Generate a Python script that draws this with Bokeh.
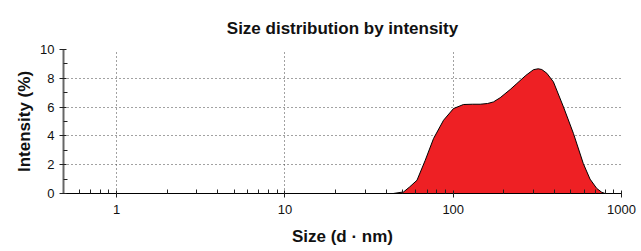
from bokeh.plotting import figure
from bokeh.models import FixedTicker, PrintfTickFormatter, Range1d
from bokeh.embed import file_html
from bokeh.resources import INLINE

# Data (size in d.nm, intensity in %)
size_nm = [44, 50.7, 55, 60.9, 68.2, 76.4, 87.6, 100.4, 115, 130, 144.6, 160,
           173.4, 190, 218, 239, 270, 300, 320, 336, 360, 394, 452, 518, 593,
           650, 713, 760, 798]
intensity = [0.0, 0.11, 0.45, 0.92, 2.31, 3.82, 5.09, 5.9, 6.18, 6.2, 6.2, 6.25,
             6.36, 6.65, 7.22, 7.64, 8.2, 8.6, 8.66, 8.61, 8.35, 7.75, 6.01, 4.17, 2.08,
             1.0, 0.35, 0.1, 0.0]

x_major = [1, 10, 100, 1000]
x_minor = [0.6, 0.7, 0.8, 0.9] + [m * d for d in (1, 10, 100) for m in range(2, 10)]
y_major = [0, 2, 4, 6, 8, 10]
y_minor = [1, 3, 5, 7, 9]
title_text = "Size distribution by intensity"

FONT = "Liberation Sans"

p = figure(width=641, height=251, x_axis_type="log", output_backend="svg",
           toolbar_location=None, x_range=Range1d(0.483, 1000), y_range=Range1d(0, 10),
           min_border_left=63, min_border_right=20, min_border_top=49,
           min_border_bottom=58, title=title_text)
p.outline_line_color = None
p.background_fill_color = "white"

p.title.text_font = FONT
p.title.text_font_size = "17px"
p.title.text_font_style = "bold"
p.title.align = "center"
p.title.text_color = "#111111"
p.title.vertical_align = "top"
p.title.standoff = 20

p.varea(x=size_nm, y1=0, y2=intensity, fill_color="#EE2024")
p.line(x=size_nm, y=intensity, line_color="black", line_width=1)

p.xaxis.ticker = FixedTicker(ticks=x_major, minor_ticks=x_minor)
p.xaxis.formatter = PrintfTickFormatter(format="%d")
p.yaxis.ticker = FixedTicker(ticks=y_major, minor_ticks=y_minor)

p.xaxis.axis_label = "Size (d · nm)"
p.yaxis.axis_label = "Intensity (%)"
for ax in (p.xaxis, p.yaxis):
    ax.axis_label_text_font = FONT
    ax.axis_label_text_font_size = "17px"
    ax.axis_label_text_font_style = "bold"
    ax.axis_label_text_color = "#111111"
    ax.major_label_text_font = FONT
    ax.major_label_text_font_size = "13px"
    ax.major_label_text_color = "#111111"
    ax.major_tick_out = 4
    ax.major_tick_in = 3
    ax.minor_tick_out = 0
    ax.minor_tick_in = 4
    ax.major_tick_line_color = "#222222"
    ax.minor_tick_line_color = "#222222"
p.xaxis.axis_line_color = "black"
p.yaxis.axis_line_color = "#666666"
p.yaxis.axis_line_width = 2
p.xaxis.axis_label_standoff = 10
p.yaxis.axis_label_standoff = 3
p.xaxis.major_label_standoff = 7
p.yaxis.major_label_standoff = 5

for g in (p.xgrid, p.ygrid):
    g.grid_line_color = "#444444"
    g.grid_line_dash = "1 3"
    g.grid_line_width = 1

open("out.html", "w").write(file_html(p, INLINE))
